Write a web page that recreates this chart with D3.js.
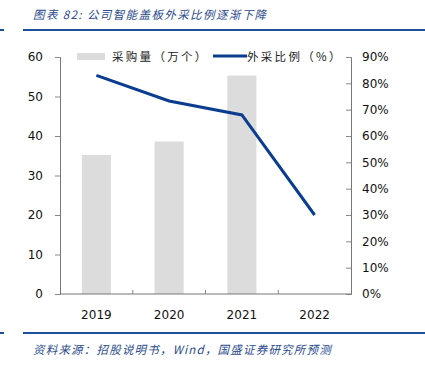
<!DOCTYPE html>
<html><head><meta charset="utf-8">
<script src="https://cdn.jsdelivr.net/npm/d3@7"></script>
<style>body{margin:0;background:#fff;} svg{display:block;}</style>
</head><body>
<svg id="c" width="425" height="366"></svg>
<script>
const categories = ["2019","2020","2021","2022"];
const purchase = [35.2, 38.6, 55.3, null];
const ratio = [0.83, 0.733, 0.68, 0.30];
const leftTicks = [0,10,20,30,40,50,60];
const rightTicks = [0,0.1,0.2,0.3,0.4,0.5,0.6,0.7,0.8,0.9];

const svg = d3.select("#c");
const font = "'DejaVu Sans', Verdana, sans-serif";
const blue = "#1f4e9c";
const m = {l:60, r:351, t:57, b:294};

// header
svg.append("rect").attr("x",0).attr("y",29).attr("width",4).attr("height",2).attr("fill",blue);
svg.append("rect").attr("x",23).attr("y",29).attr("width",402).attr("height",2).attr("fill",blue);
svg.append("text").attr("x",33).attr("y",19).attr("font-family","'Noto Sans CJK SC', sans-serif")
  .attr("font-size",11.5).attr("font-style","italic").attr("letter-spacing",1.4).attr("fill","#2a4a8c").text("图表 82:  公司智能盖板外采比例逐渐下降");
svg.append("rect").attr("x",0).attr("y",332).attr("width",4).attr("height",2).attr("fill",blue);
svg.append("rect").attr("x",23).attr("y",332).attr("width",402).attr("height",2).attr("fill",blue);
svg.append("text").attr("x",33).attr("y",354).attr("font-family","'Noto Sans CJK SC', sans-serif")
  .attr("font-size",11.5).attr("font-style","italic").attr("letter-spacing",1.2).attr("fill","#2a4a8c").text("资料来源：招股说明书，Wind，国盛证券研究所预测");

const x = d3.scaleBand().domain(categories).range([m.l, m.r]);
const yL = d3.scaleLinear().domain([0,60]).range([m.b, m.t]);
const yR = d3.scaleLinear().domain([0,0.9]).range([m.b, m.t]);

// bars
svg.append("g").selectAll("rect").data(categories.map((c,i)=>({c,v:purchase[i]})).filter(d=>d.v!=null))
  .join("rect").attr("x",d=>x(d.c)+x.bandwidth()*0.3).attr("width",x.bandwidth()*0.4)
  .attr("y",d=>yL(d.v)).attr("height",d=>yL(0)-yL(d.v)).attr("fill","#dcdcdc");

// line
const line = d3.line().x((d,i)=>x(categories[i])+x.bandwidth()/2).y(d=>yR(d));
svg.append("path").datum(ratio).attr("d",line).attr("fill","none").attr("stroke","#0a3d8f").attr("stroke-width",3);

// axes
const axL = svg.append("g").attr("transform",`translate(${m.l},0)`)
  .call(d3.axisLeft(yL).tickValues(leftTicks).tickSize(5).tickPadding(12));
const axR = svg.append("g").attr("transform",`translate(${m.r},0)`)
  .call(d3.axisRight(yR).tickValues(rightTicks).tickFormat(d3.format(".0%")).tickSize(-5).tickPadding(11));
const axB = svg.append("g").attr("transform",`translate(0,${m.b})`)
  .call(d3.axisBottom(x).tickSize(0).tickPadding(16));
// inner ticks between categories
svg.append("g").selectAll("line").data(categories.slice(1)).join("line")
  .attr("x1",d=>x(d)).attr("x2",d=>x(d)).attr("y1",m.b).attr("y2",m.b-4).attr("stroke","#888");
[axL,axR,axB].forEach(a=>{
  a.selectAll("path").attr("stroke","#777");
  a.selectAll(".tick line").attr("stroke","#888");
  a.selectAll("text").attr("font-family",font).attr("font-size",12).attr("fill","#111");
});
axR.selectAll("text").attr("text-anchor","start").attr("dx",0);
axB.select("path").attr("d",`M${m.l},0H${m.r}`);

// legend
const lg = svg.append("g").attr("font-family","'Noto Sans CJK SC', sans-serif").attr("font-size",11.5).attr("letter-spacing",2.3).attr("fill","#222");
lg.append("rect").attr("x",77).attr("y",53).attr("width",28).attr("height",7).attr("fill","#dcdcdc");
lg.append("text").attr("x",112).attr("y",61).text("采购量（万个）");
lg.append("line").attr("x1",213).attr("x2",247).attr("y1",56).attr("y2",56).attr("stroke","#0a3d8f").attr("stroke-width",3);
lg.append("text").attr("x",247).attr("y",61).text("外采比例（%）");
</script>
</body></html>
